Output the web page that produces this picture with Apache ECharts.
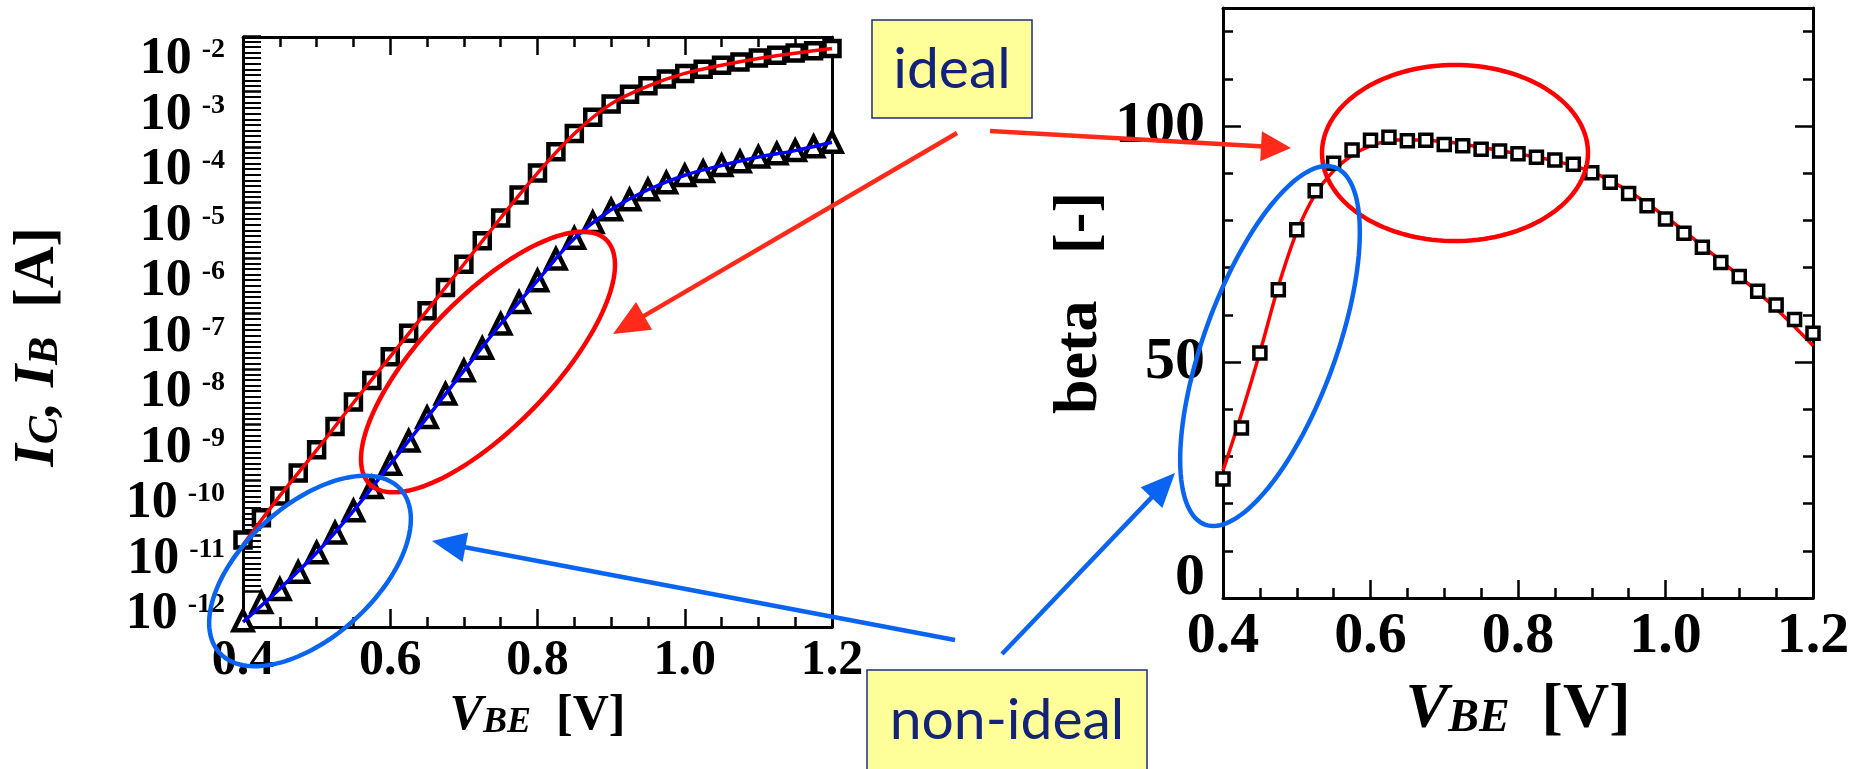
<!DOCTYPE html>
<html>
<head>
<meta charset="utf-8">
<script src="https://cdn.jsdelivr.net/npm/echarts@6/dist/echarts.min.js"></script>
<style>
  html, body { margin: 0; padding: 0; background: #ffffff; }
  #chart { width: 1856px; height: 769px; }
</style>
</head>
<body>
<div id="chart"></div>
<script>
// Base-emitter voltage sweep [V]
const VBE = [0.400, 0.425, 0.450, 0.475, 0.500, 0.525, 0.550, 0.575, 0.600, 0.625, 0.650,
             0.675, 0.700, 0.725, 0.750, 0.775, 0.800, 0.825, 0.850, 0.875, 0.900, 0.925,
             0.950, 0.975, 1.000, 1.025, 1.050, 1.075, 1.100, 1.125, 1.150, 1.175, 1.200];

// Measured collector current I_C [A]
const IC = [8.3e-12, 2.1e-11, 5.2e-11, 1.35e-10, 3.55e-10, 9.3e-10, 2.57e-9, 6.3e-9, 1.7e-8, 4.5e-8, 1.15e-7,
            3.0e-7, 7.9e-7, 2.1e-6, 5.4e-6, 1.41e-5, 3.5e-5, 8.5e-5, 1.82e-4, 3.55e-4, 6.2e-4, 9.3e-4,
            1.32e-3, 1.74e-3, 2.19e-3, 2.63e-3, 3.09e-3, 3.55e-3, 4.17e-3, 4.68e-3, 5.13e-3, 5.62e-3, 6.17e-3];

// Measured base current I_B [A]
const IB = [2.9e-13, 6.2e-13, 1.07e-12, 2.19e-12, 4.9e-12, 1.12e-11, 2.82e-11, 7.4e-11, 1.95e-10, 5.1e-10, 1.35e-9,
            3.6e-9, 9.5e-9, 2.4e-8, 6.6e-8, 1.62e-7, 4.0e-7, 9.8e-7, 2.34e-6, 4.5e-6, 7.6e-6, 1.15e-5,
            1.74e-5, 2.34e-5, 3.16e-5, 3.72e-5, 4.8e-5, 5.6e-5, 6.8e-5, 7.8e-5, 8.9e-5, 1.05e-4, 1.26e-4];

// Model curves for the Gummel plot
const FIT_V  = [0.40, 0.45, 0.50, 0.55, 0.60, 0.65, 0.70, 0.75, 0.80, 0.85, 0.90, 0.95, 1.00, 1.05, 1.10, 1.15, 1.20];
const IC_FIT = [6.8e-12, 5.2e-11, 3.5e-10, 2.5e-9, 1.7e-8, 1.15e-7, 7.9e-7, 5.4e-6, 3.5e-5, 1.8e-4, 6.2e-4,
                1.3e-3, 2.2e-3, 3.1e-3, 4.1e-3, 5.1e-3, 6.2e-3];
const IB_FIT = [2.75e-13, 1.1e-12, 4.9e-12, 2.8e-11, 1.95e-10, 1.35e-9, 9.5e-9, 6.6e-8, 4.0e-7, 2.3e-6, 7.6e-6,
                1.75e-5, 3.2e-5, 4.8e-5, 6.8e-5, 8.9e-5, 1.26e-4];

// Current gain beta = I_C / I_B, measured
const BETA = [25.2, 36.0, 51.9, 65.3, 78.0, 86.3, 92.1, 94.9, 97.0, 97.6, 96.9,
              97.0, 96.1, 95.8, 95.1, 94.7, 94.1, 93.4, 92.8, 91.9, 90.1, 88.1,
              85.7, 83.1, 80.3, 77.3, 74.3, 71.1, 68.1, 65.0, 62.1, 59.0, 56.1];

// Current gain, model
const BETA_FIT_V = [0.400, 0.425, 0.450, 0.475, 0.500, 0.525, 0.550, 0.575, 0.600, 0.625, 0.650,
                    0.700, 0.750, 0.800, 0.850, 0.900, 0.950, 1.000, 1.050, 1.100, 1.150, 1.200];
const BETA_FIT   = [27.0, 39.0, 52.0, 66.0, 77.5, 85.5, 90.5, 93.8, 95.8, 96.8, 97.1,
                    96.7, 95.5, 94.1, 92.6, 90.3, 86.2, 80.8, 74.6, 68.2, 61.3, 53.5];

// Decade exponents labelled on the current axis, and labelled gain values
const DECADES = [-12, -11, -10, -9, -8, -7, -6, -5, -4, -3, -2];
const BETA_LABELS = [0, 50, 100];

const SERIF = '"Liberation Serif", "Times New Roman", serif';
const SANS = 'Lato, "Open Sans", sans-serif';
const RED = '#ff0000';
const ARROW_RED = '#ff2a1a';
const BLUE = '#0a64f2';

const zip = (xs, ys) => xs.map((x, i) => [x, ys[i]]);

const frameLine = { show: true, onZero: false, lineStyle: { color: '#000', width: 3 } };
const noTick = { show: false };

function vAxis(extra) {
  return Object.assign({
    type: 'value', min: 0.4, max: 1.2, interval: 0.2,
    splitLine: { show: false },
    axisLine: frameLine,
    axisTick: { show: true, inside: true, length: 18, lineStyle: { color: '#000', width: 2.5 } },
    minorTick: { show: true, splitNumber: 4, length: 10, lineStyle: { color: '#000', width: 2.5 } },
    axisLabel: { show: false }
  }, extra);
}

const chart = echarts.init(document.getElementById('chart'), null, { renderer: 'canvas' });

// ---------- annotation shapes ----------
function ellipse(cx, cy, a, b, deg, color) {
  const r = deg * Math.PI / 180, pts = [];
  for (let k = 0; k < 144; k++) {
    const t = k / 144 * 2 * Math.PI;
    const x = a * Math.cos(t), y = b * Math.sin(t);
    pts.push([cx + x * Math.cos(r) - y * Math.sin(r), cy + x * Math.sin(r) + y * Math.cos(r)]);
  }
  return { type: 'polygon', z: 100, silent: true, shape: { points: pts },
           style: { fill: null, stroke: color, lineWidth: 4.5 } };
}
function arrow(x1, y1, tx, ty, color, len, half, w) {
  const dx = tx - x1, dy = ty - y1, L = Math.hypot(dx, dy), ux = dx / L, uy = dy / L;
  const bx = tx - ux * len, by = ty - uy * len;
  return [
    { type: 'line', z: 100, silent: true, shape: { x1: x1, y1: y1, x2: bx + ux * 3, y2: by + uy * 3 },
      style: { stroke: color, lineWidth: w } },
    { type: 'polygon', z: 100, silent: true,
      shape: { points: [[tx, ty], [bx - uy * half, by + ux * half], [bx + uy * half, by - ux * half]] },
      style: { fill: color } }
  ];
}
function tag(x, y, w, h, label, tx, ty) {
  return [
    { type: 'rect', z: 102, silent: true, shape: { x: x, y: y, width: w, height: h },
      style: { fill: '#ffff99', stroke: '#1c2b7e', lineWidth: 1.5 } },
    { type: 'text', z: 103, silent: true, x: tx, y: ty,
      style: { text: label, font: '57px ' + SANS, fill: '#14237a',
               align: 'center', verticalAlign: 'middle', textAlign: 'center', textVerticalAlign: 'middle' } }
  ];
}

const graphics = [].concat(
  [ellipse(488, 362, 170, 65, -46, RED),
   ellipse(310, 571, 122, 66, -42, BLUE),
   ellipse(1455, 153, 133, 88, 0, RED),
   ellipse(1270, 346, 190, 66, -70, BLUE)],
  arrow(990, 131, 1291, 148, ARROW_RED, 30, 15, 4.5),
  arrow(957, 133, 613, 334, ARROW_RED, 36, 16, 4.5),
  arrow(955, 640, 432, 541, BLUE, 34, 15, 4.5),
  arrow(1002, 654, 1175, 473, BLUE, 34, 15, 4.5),
  tag(872, 20, 160, 98, 'ideal', 952, 70),
  tag(867, 670, 280, 110, 'non-ideal', 1007, 721)
);

const titleRich = (big, small, subLH, tail) => ({
  i: { fontFamily: SERIF, fontWeight: 'bold', fontStyle: 'italic', fontSize: big, lineHeight: big, color: '#000' },
  s: { fontFamily: SERIF, fontWeight: 'bold', fontStyle: 'italic', fontSize: small, lineHeight: subLH,
       verticalAlign: 'bottom', color: '#000' },
  u: { fontFamily: SERIF, fontWeight: 'bold', fontSize: big, lineHeight: big, color: '#000',
       padding: [0, tail || 0, 0, 0] }
});

const option = {
  animation: false,
  backgroundColor: '#ffffff',
  grid: [
    { left: 243, top: 37, width: 589, height: 590 },   // Gummel plot
    { left: 243, top: 36, width: 589, height: 555 },   // decade scale of the Gummel plot
    { left: 1223, top: 8, width: 590, height: 590 }    // current gain
  ],
  xAxis: [
    vAxis({
      gridIndex: 0, position: 'bottom',
      axisLabel: { show: true, margin: 9, color: '#000', fontFamily: SERIF, fontWeight: 'bold', fontSize: 50,
                   formatter: v => v.toFixed(1) },
      name: '{i|V}{s|BE}{u|  [V]}', nameLocation: 'middle', nameGap: 60,
      nameTextStyle: { rich: titleRich(50, 36, 24) }
    }),
    vAxis({ gridIndex: 0, position: 'top' }),
    { gridIndex: 1, type: 'value', min: 0, max: 1, show: false },
    vAxis({
      gridIndex: 2, position: 'bottom',
      axisLabel: { show: true, margin: 10, color: '#000', fontFamily: SERIF, fontWeight: 'bold', fontSize: 58,
                   formatter: v => v.toFixed(1) },
      name: '{i|V}{s|BE}{u|  [V]}', nameLocation: 'middle', nameGap: 80,
      nameTextStyle: { rich: titleRich(64, 46, 30) }
    }),
    { gridIndex: 2, type: 'value', position: 'top', min: 0.4, max: 1.2, axisLine: frameLine,
      axisTick: noTick, axisLabel: { show: false }, splitLine: { show: false } }
  ],
  yAxis: [
    // Gummel plot data scale (frame reaches a little below 1e-12)
    { gridIndex: 0, type: 'log', logBase: 10, min: 2.24e-13, max: 1e-2, position: 'left',
      axisLine: frameLine, axisTick: noTick, axisLabel: { show: false }, splitLine: { show: false },
      name: '{i|I}{s|C}{i|, I}{s|B}{u|  [A]}', nameLocation: 'middle', nameRotate: 90, nameGap: 176,
      nameTextStyle: { rich: titleRich(58, 42, 24, 30) } },
    { gridIndex: 0, type: 'value', min: 0, max: 1, position: 'right',
      axisLine: frameLine, axisTick: noTick, axisLabel: { show: false }, splitLine: { show: false } },
    // decade ticks and labels (exponent of 10); the exponent sits on the tick, "10" just below it
    { gridIndex: 1, type: 'value', min: DECADES[0], max: DECADES[DECADES.length - 1], interval: 1, position: 'left',
      axisLine: { show: false }, splitLine: { show: false },
      axisTick: { show: true, inside: true, length: 18, lineStyle: { color: '#000', width: 2.5 } },
      minorTick: { show: true, splitNumber: 10, length: 18, lineStyle: { color: '#000', width: 2 } },
      axisLabel: { show: true, margin: 18, verticalAlign: 'top', showMinLabel: true, showMaxLabel: true,
        formatter: v => DECADES.indexOf(Math.round(v)) >= 0 ? '{b|10}{e|' + Math.round(v) + '}' : '',
        rich: {
          b: { fontFamily: SERIF, fontWeight: 'bold', fontSize: 52, lineHeight: 48, color: '#000' },
          e: { fontFamily: SERIF, fontWeight: 'bold', fontSize: 28, lineHeight: 2, verticalAlign: 'top',
               padding: [0, 0, 0, 10], color: '#000' } } } },
    // current gain axes
    { gridIndex: 2, type: 'value', min: 0, max: 125, interval: 10, position: 'left',
      axisLine: frameLine, splitLine: { show: false },
      axisTick: { show: true, inside: true, length: 10, lineStyle: { color: '#000', width: 2.5 } },
      axisLabel: { show: true, margin: 18, color: '#000', fontFamily: SERIF, fontWeight: 'bold', fontSize: 60,
        showMinLabel: true,
        formatter: v => v === 0 ? '{z|0}' : (BETA_LABELS.indexOf(v) >= 0 ? String(v) : ''),
        rich: { z: { fontFamily: SERIF, fontWeight: 'bold', fontSize: 60, color: '#000', padding: [0, 0, 40, 0] } } },
      name: 'beta   [-]', nameLocation: 'middle', nameRotate: 90, nameGap: 68,
      nameTextStyle: { fontFamily: SERIF, fontWeight: 'bold', fontSize: 62, color: '#000' } },
    { gridIndex: 2, type: 'value', min: 0, max: 125, interval: 50, position: 'left',
      axisLine: { show: false }, splitLine: { show: false }, axisLabel: { show: false },
      axisTick: { show: true, inside: true, length: 18, lineStyle: { color: '#000', width: 2.5 } } },
    { gridIndex: 2, type: 'value', min: 0, max: 125, interval: 10, position: 'right',
      axisLine: frameLine, splitLine: { show: false }, axisLabel: { show: false },
      axisTick: { show: true, inside: true, length: 10, lineStyle: { color: '#000', width: 2.5 } } },
    { gridIndex: 2, type: 'value', min: 0, max: 125, interval: 50, position: 'right',
      axisLine: { show: false }, splitLine: { show: false }, axisLabel: { show: false },
      axisTick: { show: true, inside: true, length: 18, lineStyle: { color: '#000', width: 2.5 } } }
  ],
  series: [
    { name: 'I_C', type: 'scatter', xAxisIndex: 0, yAxisIndex: 0, z: 3,
      data: zip(VBE, IC), symbol: 'rect', symbolSize: 15,
      itemStyle: { color: '#ffffff', borderColor: '#000000', borderWidth: 4.5, opacity: 1 } },
    { name: 'I_B', type: 'scatter', xAxisIndex: 0, yAxisIndex: 0, z: 3,
      data: zip(VBE, IB), symbol: 'triangle', symbolSize: 19,
      itemStyle: { color: '#ffffff', borderColor: '#000000', borderWidth: 4.5, opacity: 1 } },
    { name: 'I_C model', type: 'line', xAxisIndex: 0, yAxisIndex: 0, z: 4,
      data: zip(FIT_V, IC_FIT), smooth: 0.35, showSymbol: false,
      lineStyle: { color: RED, width: 3.5 } },
    { name: 'I_B model', type: 'line', xAxisIndex: 0, yAxisIndex: 0, z: 4,
      data: zip(FIT_V, IB_FIT), smooth: 0.35, showSymbol: false,
      lineStyle: { color: '#0000ff', width: 3.5 } },
    { name: 'beta model', type: 'line', xAxisIndex: 3, yAxisIndex: 3, z: 3,
      data: zip(BETA_FIT_V, BETA_FIT), smooth: 0.35, showSymbol: false,
      lineStyle: { color: RED, width: 3.5 } },
    { name: 'beta', type: 'scatter', xAxisIndex: 3, yAxisIndex: 3, z: 4,
      data: zip(VBE, BETA), symbol: 'rect', symbolSize: 12,
      itemStyle: { color: '#ffffff', borderColor: '#000000', borderWidth: 3.5, opacity: 1 } }
  ],
  graphic: graphics
};

chart.setOption(option);
</script>
</body>
</html>
